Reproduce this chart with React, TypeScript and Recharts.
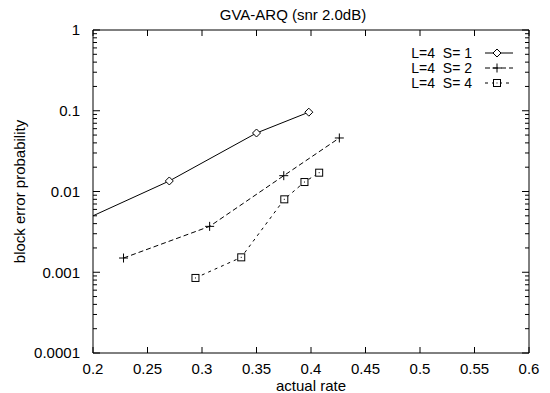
import React from 'react';
import { LineChart, Line, XAxis, YAxis } from 'recharts';

// ---------- data ----------
const xTicks = [0.2, 0.25, 0.3, 0.35, 0.4, 0.45, 0.5, 0.55, 0.6];
const xTickLabels = ['0.2', '0.25', '0.3', '0.35', '0.4', '0.45', '0.5', '0.55', '0.6'];
const yDecades = [0.0001, 0.001, 0.01, 0.1, 1];
const yTickLabels = ['0.0001', '0.001', '0.01', '0.1', '1'];
const minorMultipliers = [2, 3, 4, 5, 6, 7, 8, 9];

const seriesNames = ['L=4  S= 1', 'L=4  S= 2', 'L=4  S= 4'];

const rateS1 = [0.2, 0.27, 0.35, 0.398];
const errS1 = [0.005, 0.0135, 0.053, 0.096];

const rateS2 = [0.228, 0.307, 0.375, 0.426];
const errS2 = [0.0015, 0.0037, 0.0157, 0.046];

const rateS4 = [0.294, 0.336, 0.3755, 0.394, 0.4075];
const errS4 = [0.00085, 0.00153, 0.008, 0.0131, 0.0171];

const titleText = 'GVA-ARQ (snr 2.0dB)';
const xLabelText = 'actual rate';
const yLabelText = 'block error probability';

// ---------- derived ----------
const s1Data = rateS1.map((x, i) => ({ x, y: errS1[i] }));
const s2Data = rateS2.map((x, i) => ({ x, y: errS2[i] }));
const s4Data = rateS4.map((x, i) => ({ x, y: errS4[i] }));

const yAllTicks: number[] = [];
yDecades.forEach((d, i) => {
  yAllTicks.push(d);
  if (i < yDecades.length - 1) minorMultipliers.forEach((m) => yAllTicks.push(+(d * m).toPrecision(6)));
});

const X_MIN = xTicks[0];
const X_MAX = xTicks[xTicks.length - 1];
const FONT = "'Liberation Sans', Arial, Helvetica, sans-serif";
const FS = 15;
const LEGEND_FS = 14;
const INK = '#000';

const decadeIndex = (v: number) => yDecades.findIndex((d) => Math.abs(Math.log10(d) - Math.log10(v)) < 1e-6);

// ---------- ticks ----------
const LeftTick = (props: any) => {
  const { x, y, payload } = props;
  const idx = decadeIndex(payload.value);
  const major = idx >= 0;
  return (
    <g>
      <line x1={x} x2={x + (major ? 7 : 4)} y1={y} y2={y} stroke={INK} strokeWidth={1} />
      {major && (
        <text x={x - 13} y={y} dy="0.36em" textAnchor="end" fontSize={FS} fontFamily={FONT} fill={INK}>
          {yTickLabels[idx]}
        </text>
      )}
    </g>
  );
};

const RightTick = (props: any) => {
  const { x, y, payload } = props;
  const major = decadeIndex(payload.value) >= 0;
  return <line x1={x} x2={x - (major ? 7 : 4)} y1={y} y2={y} stroke={INK} strokeWidth={1} />;
};

const BottomTick = (props: any) => {
  const { x, y, payload } = props;
  const idx = xTicks.findIndex((t) => Math.abs(t - payload.value) < 1e-9);
  return (
    <g>
      <line x1={x} x2={x} y1={y} y2={y - 6} stroke={INK} strokeWidth={1} />
      <text x={x} y={y + 21} textAnchor="middle" fontSize={FS} fontFamily={FONT} fill={INK}>
        {xTickLabels[idx]}
      </text>
    </g>
  );
};

const TopTick = (props: any) => {
  const { x, y } = props;
  return <line x1={x} x2={x} y1={y} y2={y + 6} stroke={INK} strokeWidth={1} />;
};

// ---------- markers ----------
const Diamond = ({ cx, cy }: { cx: number; cy: number }) => (
  <path d={`M${cx},${cy - 4}L${cx + 4},${cy}L${cx},${cy + 4}L${cx - 4},${cy}Z`} fill="#fff" stroke={INK} strokeWidth={1} />
);
const Plus = ({ cx, cy }: { cx: number; cy: number }) => (
  <path d={`M${cx - 4.5},${cy}H${cx + 4.5}M${cx},${cy - 4.5}V${cy + 4.5}`} stroke={INK} strokeWidth={1} fill="none" />
);
const BoxDot = ({ cx, cy }: { cx: number; cy: number }) => (
  <g>
    <rect x={cx - 3.5} y={cy - 3.5} width={7} height={7} fill="#fff" stroke={INK} strokeWidth={1} />
    <rect x={cx - 0.5} y={cy - 0.5} width={1} height={1} fill={INK} />
  </g>
);

const dotS1 = (p: any) => {
  if (p.payload && p.payload.x <= X_MIN) return <g key={`d1-${p.index}`} />;
  return <g key={`d1-${p.index}`}><Diamond cx={p.cx} cy={p.cy} /></g>;
};
const dotS2 = (p: any) => <g key={`d2-${p.index}`}><Plus cx={p.cx} cy={p.cy} /></g>;
const dotS4 = (p: any) => <g key={`d4-${p.index}`}><BoxDot cx={p.cx} cy={p.cy} /></g>;

const DASH_S2 = '5 3';
const DASH_S4 = '3 4';

// ---------- legend ----------
const LegendBox = () => {
  const rows = [
    { name: seriesNames[0], dash: undefined as string | undefined, M: Diamond },
    { name: seriesNames[1], dash: DASH_S2, M: Plus },
    { name: seriesNames[2], dash: DASH_S4, M: BoxDot },
  ];
  return (
    <svg width={200} height={60} style={{ position: 'absolute', left: 330, top: 38 }}>
      {rows.map((r, i) => {
        const cy = 15 + i * 15;
        return (
          <g key={i}>
            <text x={142} y={cy} dy="0.36em" textAnchor="end" fontSize={LEGEND_FS} fontFamily={FONT} fill={INK} style={{ whiteSpace: 'pre' }}>
              {r.name}
            </text>
            <line x1={155} x2={183} y1={cy} y2={cy} stroke={INK} strokeWidth={1} strokeDasharray={r.dash} />
            <r.M cx={167} cy={cy} />
          </g>
        );
      })}
    </svg>
  );
};

export default function App() {
  return (
    <div style={{ position: 'absolute', left: 0, top: 0, width: 550, height: 393, background: '#fff', fontFamily: FONT }}>
      <div
        style={{
          position: 'absolute',
          left: 193,
          width: 200,
          top: 5,
          textAlign: 'center',
          fontSize: FS,
          lineHeight: '20px',
          color: INK,
        }}
      >
        {titleText}
      </div>
      <LineChart width={550} height={393} margin={{ top: 29, right: 20, bottom: 0, left: 0 }}>
        <XAxis
          xAxisId={0}
          dataKey="x"
          type="number"
          domain={[X_MIN, X_MAX]}
          ticks={xTicks}
          interval={0}
          allowDataOverflow
          height={40}
          tickSize={0}
          tickMargin={0}
          tickLine={false}
          axisLine={{ stroke: INK, strokeWidth: 1 }}
          tick={BottomTick}
          label={{
            content: (p: any) => {
              const vb = p.viewBox || {};
              return (
                <text x={vb.x + vb.width / 2} y={vb.y + 38} textAnchor="middle" fontSize={FS} fontFamily={FONT} fill={INK}>
                  {xLabelText}
                </text>
              );
            },
          }}
        />
        <XAxis
          xAxisId="top"
          orientation="top"
          dataKey="x"
          type="number"
          domain={[X_MIN, X_MAX]}
          ticks={xTicks}
          interval={0}
          allowDataOverflow
          height={1}
          tickSize={0}
          tickMargin={0}
          tickLine={false}
          axisLine={{ stroke: INK, strokeWidth: 1 }}
          tick={TopTick}
        />
        <YAxis
          yAxisId={0}
          type="number"
          scale="log"
          domain={[yDecades[0], yDecades[yDecades.length - 1]]}
          ticks={yAllTicks}
          interval={0}
          allowDataOverflow
          width={93}
          tickSize={0}
          tickMargin={0}
          tickLine={false}
          axisLine={{ stroke: INK, strokeWidth: 1 }}
          tick={LeftTick}
          label={{
            content: (p: any) => {
              const vb = p.viewBox || {};
              const cx = 20;
              const cy = vb.y + vb.height / 2;
              return (
                <text
                  x={cx}
                  y={cy}
                  transform={`rotate(-90, ${cx}, ${cy})`}
                  dy="0.36em"
                  textAnchor="middle"
                  fontSize={FS}
                  fontFamily={FONT}
                  fill={INK}
                >
                  {yLabelText}
                </text>
              );
            },
          }}
        />
        <YAxis
          yAxisId="right"
          orientation="right"
          type="number"
          scale="log"
          domain={[yDecades[0], yDecades[yDecades.length - 1]]}
          ticks={yAllTicks}
          interval={0}
          allowDataOverflow
          width={1}
          tickSize={0}
          tickMargin={0}
          tickLine={false}
          axisLine={{ stroke: INK, strokeWidth: 1 }}
          tick={RightTick}
        />
        <Line
          data={s1Data}
          dataKey="y"
          xAxisId={0}
          yAxisId={0}
          type="linear"
          stroke={INK}
          strokeWidth={1}
          dot={dotS1}
          activeDot={false}
          isAnimationActive={false}
        />
        <Line
          data={s2Data}
          dataKey="y"
          xAxisId={0}
          yAxisId={0}
          type="linear"
          stroke={INK}
          strokeWidth={1}
          strokeDasharray={DASH_S2}
          dot={dotS2}
          activeDot={false}
          isAnimationActive={false}
        />
        <Line
          data={s4Data}
          dataKey="y"
          xAxisId={0}
          yAxisId={0}
          type="linear"
          stroke={INK}
          strokeWidth={1}
          strokeDasharray={DASH_S4}
          dot={dotS4}
          activeDot={false}
          isAnimationActive={false}
        />
      </LineChart>
      <LegendBox />
    </div>
  );
}
